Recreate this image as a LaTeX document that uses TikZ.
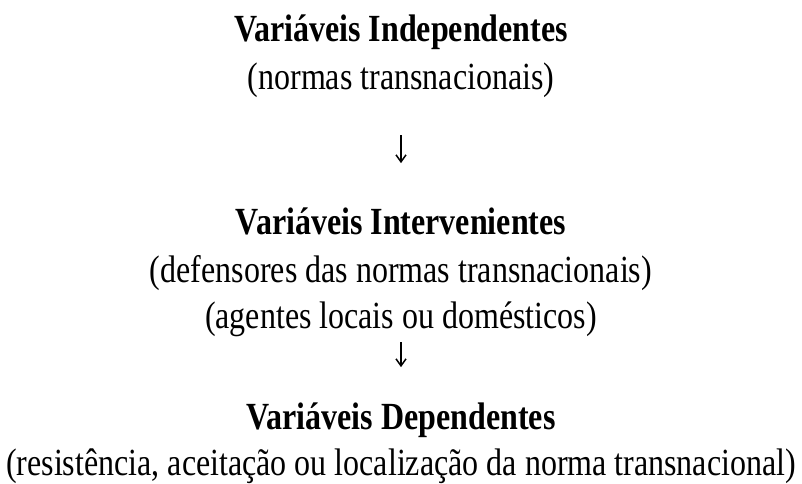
\documentclass[tikz,border=0pt]{standalone}
\usepackage{fontspec}
\setmainfont{Liberation Serif}
\usetikzlibrary{arrows.meta}
\newcommand{\tallt}[1]{\scalebox{1}[1.2]{#1}}
\tikzset{
  varhead/.style={anchor=base, inner sep=0pt, font=\fontsize{32}{38}\selectfont\bfseries},
  varnote/.style={anchor=base, inner sep=0pt, font=\fontsize{32}{38}\selectfont},
  flow/.style={-{Straight Barb[length=7pt,width=10pt]}, line width=1.5pt}
}
\begin{document}
\begin{tikzpicture}[x=1pt,y=-1pt]
  \useasboundingbox (0,0) rectangle (802,483);
  % independentes
  \node[varhead] (indep) at (401,41) {\tallt{Variáveis Independentes}};
  \node[varnote] (normas) at (401,89) {\tallt{(normas transnacionais)}};
  % intervenientes
  \node[varhead] (interv) at (401,234) {\tallt{Variáveis Intervenientes}};
  \node[varnote] (defens) at (401,282) {\tallt{(defensores das normas transnacionais)}};
  \node[varnote] (agentes) at (401,328) {\tallt{(agentes locais ou domésticos)}};
  % dependentes
  \node[varhead] (dep) at (401,429) {\tallt{Variáveis Dependentes}};
  \node[varnote] (resist) at (401,475) {\tallt{(resistência, aceitação ou localização da norma transnacional)}};
  \draw[flow, shorten <=38pt, shorten >=44pt] (normas.south) -- (interv.north);
  \draw[flow, shorten <=6pt, shorten >=35pt] (agentes.south) -- (dep.north);
\end{tikzpicture}
\end{document}
